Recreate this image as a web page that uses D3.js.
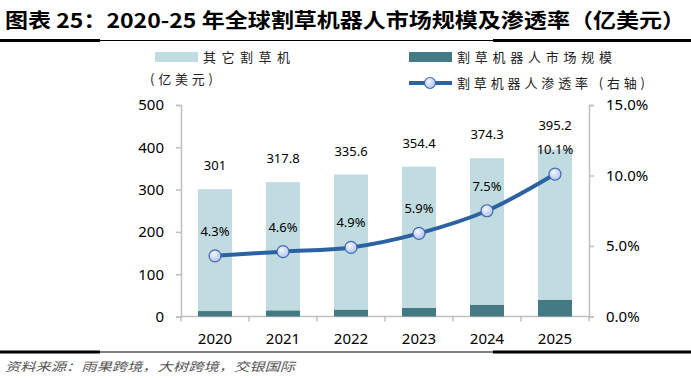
<!DOCTYPE html>
<html><head><meta charset="utf-8">
<script src="https://cdn.jsdelivr.net/npm/d3@7/dist/d3.min.js"></script>
<style>
html,body{margin:0;padding:0;background:#fff;}
svg{display:block;}
</style></head>
<body>
<svg id="c" width="691" height="378"></svg>
<script>
const years = ["2020","2021","2022","2023","2024","2025"];
const totals = [301, 317.8, 335.6, 354.4, 374.3, 395.2];
const robotMarket = [12.9, 14.6, 16.4, 20.9, 28.1, 39.9];
const penetration = [4.3, 4.6, 4.9, 5.9, 7.5, 10.1];
const leftTicks = [0, 100, 200, 300, 400, 500];
const rightTicks = [0, 5, 10, 15];
const otherMowers = totals.map((t, i) => +(t - robotMarket[i]).toFixed(1));

const svg = d3.select("#c");
const numFont = "'Noto Sans', 'DejaVu Sans', sans-serif";
const cjkFont = "'Noto Sans CJK SC', sans-serif";

// Title
svg.append("text").attr("x", 5).attr("y", 28)
  .attr("font-family", cjkFont).attr("font-weight", "bold").attr("font-size", 20)
  .attr("textLength", 680).attr("lengthAdjust", "spacingAndGlyphs")
  .attr("fill", "#000")
  .text("图表 25：2020-25 年全球割草机器人市场规模及渗透率（亿美元）");

// Title rule
svg.append("line").attr("x1", 0).attr("x2", 691).attr("y1", 40.5).attr("y2", 40.5).attr("stroke", "#000").attr("stroke-width", 1.2);
svg.append("line").attr("x1", 0).attr("x2", 100).attr("y1", 40.5).attr("y2", 40.5).attr("stroke", "#000").attr("stroke-width", 3);
svg.append("line").attr("x1", 493).attr("x2", 691).attr("y1", 40.5).attr("y2", 40.5).attr("stroke", "#000").attr("stroke-width", 3);

// Bottom rule
svg.append("line").attr("x1", 0).attr("x2", 691).attr("y1", 352).attr("y2", 352).attr("stroke", "#000").attr("stroke-width", 1.2);
svg.append("line").attr("x1", 0).attr("x2", 100).attr("y1", 352).attr("y2", 352).attr("stroke", "#000").attr("stroke-width", 3);
svg.append("line").attr("x1", 493).attr("x2", 691).attr("y1", 352).attr("y2", 352).attr("stroke", "#000").attr("stroke-width", 3);

// Source
svg.append("text").attr("x", 5).attr("y", 371)
  .attr("font-family", cjkFont).attr("font-size", 12).attr("font-style", "italic")
  .attr("fill", "#555").attr("textLength", 290).attr("lengthAdjust", "spacingAndGlyphs")
  .text("资料来源：雨果跨境，大树跨境，交银国际");

// Scales
const x0 = 181, x1 = 589, yTop = 105, yBot = 316.5;
const x = d3.scaleBand().domain(years).range([x0, x1]).paddingInner(0).paddingOuter(0);
const yL = d3.scaleLinear().domain([0, 500]).range([yBot, yTop]);
const yR = d3.scaleLinear().domain([0, 15]).range([yBot, yTop]);

const axisColor = "#BFBFBF";

// Left axis
const gL = svg.append("g").attr("transform", `translate(${x0},0)`)
  .call(d3.axisLeft(yL).tickValues(leftTicks).tickSize(5).tickPadding(12).tickFormat(d3.format("d")));
// Right axis
const gR = svg.append("g").attr("transform", `translate(${x1},0)`)
  .call(d3.axisRight(yR).tickValues(rightTicks).tickSize(5).tickPadding(12).tickFormat(d => d.toFixed(1) + "%"));
// Bottom axis
const gB = svg.append("g").attr("transform", `translate(0,${yBot})`)
  .call(d3.axisBottom(x).tickSize(0).tickPadding(17));
// category boundary ticks
const bounds = years.map(y => x(y)).concat([x1]);
gB.selectAll("line.bt").data(bounds).enter().append("line").attr("class", "bt")
  .attr("x1", d => d).attr("x2", d => d).attr("y1", 0).attr("y2", 5).attr("stroke", axisColor).attr("stroke-width", 1.5);

[gL, gR, gB].forEach(g => {
  g.selectAll(".domain").attr("stroke", axisColor).attr("stroke-width", 1.5);
  g.selectAll(".tick line").attr("stroke", axisColor).attr("stroke-width", 1.5);
  g.selectAll("text").attr("font-family", numFont).attr("font-size", 15).attr("fill", "#000");
});
gB.select(".domain").attr("d", `M${x0},0H${x1}`);

// Bars
const barW = x.bandwidth() * 0.5;
const bars = svg.append("g");
bars.selectAll("rect.r").data(years).enter().append("rect")
  .attr("x", d => x(d) + (x.bandwidth() - barW) / 2)
  .attr("width", barW)
  .attr("y", (d, i) => yL(robotMarket[i]))
  .attr("height", (d, i) => yBot - yL(robotMarket[i]))
  .attr("fill", "#437A83");
bars.selectAll("rect.o").data(years).enter().append("rect")
  .attr("x", d => x(d) + (x.bandwidth() - barW) / 2)
  .attr("width", barW)
  .attr("y", (d, i) => yL(robotMarket[i] + otherMowers[i]))
  .attr("height", (d, i) => yL(robotMarket[i]) - yL(robotMarket[i] + otherMowers[i]))
  .attr("fill", "#C0DCE0");

// Total labels
svg.append("g").selectAll("text").data(years).enter().append("text")
  .attr("x", d => x(d) + x.bandwidth() / 2)
  .attr("y", (d, i) => yL(totals[i]) - 19)
  .attr("text-anchor", "middle")
  .attr("font-family", numFont).attr("font-size", 13).attr("fill", "#000")
  .text((d, i) => totals[i]);

// Line
const line = d3.line()
  .x(d => x(d.y) + x.bandwidth() / 2)
  .y(d => yR(d.v))
  .curve(d3.curveCatmullRom.alpha(0.5));
const pts = years.map((y, i) => ({ y, v: penetration[i] }));

const defs = svg.append("defs");
const grad = defs.append("radialGradient").attr("id", "mk").attr("cx", "40%").attr("cy", "35%").attr("r", "65%");
grad.append("stop").attr("offset", "0%").attr("stop-color", "#F2F6FD");
grad.append("stop").attr("offset", "100%").attr("stop-color", "#AFC6EC");

svg.append("path").datum(pts).attr("d", line)
  .attr("fill", "none").attr("stroke", "#2B62A1").attr("stroke-width", 4);
svg.append("g").selectAll("circle").data(pts).enter().append("circle")
  .attr("cx", d => x(d.y) + x.bandwidth() / 2)
  .attr("cy", d => yR(d.v))
  .attr("r", 6)
  .attr("fill", "url(#mk)").attr("stroke", "#4566B0").attr("stroke-width", 1.2);

// Penetration labels
svg.append("g").selectAll("text").data(pts).enter().append("text")
  .attr("x", d => x(d.y) + x.bandwidth() / 2)
  .attr("y", d => yR(d.v) - 20)
  .attr("text-anchor", "middle")
  .attr("font-family", numFont).attr("font-size", 13).attr("fill", "#000")
  .text(d => d.v.toFixed(1) + "%");

// Legend
const lg = svg.append("g").attr("font-family", cjkFont).attr("font-size", 13).attr("fill", "#222");
lg.append("rect").attr("x", 155).attr("y", 52).attr("width", 43).attr("height", 10).attr("fill", "#C0DCE0");
lg.append("text").attr("x", 203).attr("y", 61.5).attr("textLength", 87).attr("lengthAdjust", "spacing").text("其它割草机");
lg.append("text").attr("x", 150).attr("y", 84).attr("textLength", 63).attr("lengthAdjust", "spacing").text("(亿美元)");

lg.append("rect").attr("x", 409).attr("y", 52).attr("width", 43).attr("height", 10).attr("fill", "#437A83");
lg.append("text").attr("x", 457).attr("y", 61.5).attr("textLength", 155).attr("lengthAdjust", "spacing").text("割草机器人市场规模");

lg.append("line").attr("x1", 409).attr("x2", 452).attr("y1", 83).attr("y2", 83).attr("stroke", "#2B62A1").attr("stroke-width", 4);
lg.append("circle").attr("cx", 430).attr("cy", 83).attr("r", 5.5).attr("fill", "url(#mk)").attr("stroke", "#4566B0").attr("stroke-width", 1.2);
lg.append("text").attr("x", 457).attr("y", 88).attr("textLength", 188).attr("lengthAdjust", "spacing").text("割草机器人渗透率 (右轴)");
</script>
</body></html>
